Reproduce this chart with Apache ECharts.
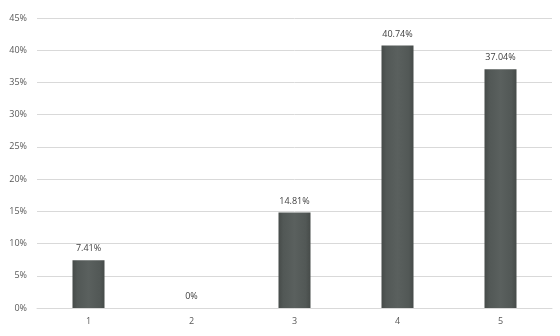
<!DOCTYPE html>
<html>
<head>
<meta charset="utf-8">
<script src="https://cdn.jsdelivr.net/npm/echarts@6/dist/echarts.min.js"></script>
<style>html,body{margin:0;padding:0;background:#fff}#main{width:560px;height:336px}</style>
</head>
<body>
<div id="main"></div>
<script>
var categories = ['1', '2', '3', '4', '5'];
var values = [7.41, 0, 14.81, 40.74, 37.04];
var valueLabels = ['7.41%', '0%', '14.81%', '40.74%', '37.04%'];

var myChart = echarts.init(document.getElementById('main'));
var barColor = {
  type: 'linear', x: 0, y: 0, x2: 1, y2: 0,
  colorStops: [
    {offset: 0, color: '#464b49'},
    {offset: 0.15, color: '#525856'},
    {offset: 0.5, color: '#5a605e'},
    {offset: 0.85, color: '#525856'},
    {offset: 1, color: '#464b49'}
  ]
};
var option = {
  animation: false,
  textStyle: {fontFamily: 'Open Sans'},
  grid: {left: 37, right: 8, top: 18, bottom: 28},
  xAxis: {
    type: 'category',
    data: categories,
    axisLine: {lineStyle: {color: '#d9d9d9'}},
    axisTick: {show: false},
    axisLabel: {color: '#595959', fontSize: 9, margin: 9}
  },
  yAxis: {
    type: 'value',
    min: 0, max: 45, interval: 5,
    axisLine: {show: false},
    axisTick: {show: false},
    splitLine: {lineStyle: {color: '#d9d9d9'}},
    axisLabel: {color: '#595959', fontSize: 9, margin: 10, formatter: '{value}%'}
  },
  series: [{
    type: 'bar',
    data: values,
    barWidth: 32,
    itemStyle: {color: barColor},
    label: {
      show: true, position: 'top', distance: 7,
      color: '#404040', fontSize: 9,
      formatter: function (p) { return valueLabels[p.dataIndex]; }
    }
  }]
};
myChart.setOption(option);
</script>
</body>
</html>
